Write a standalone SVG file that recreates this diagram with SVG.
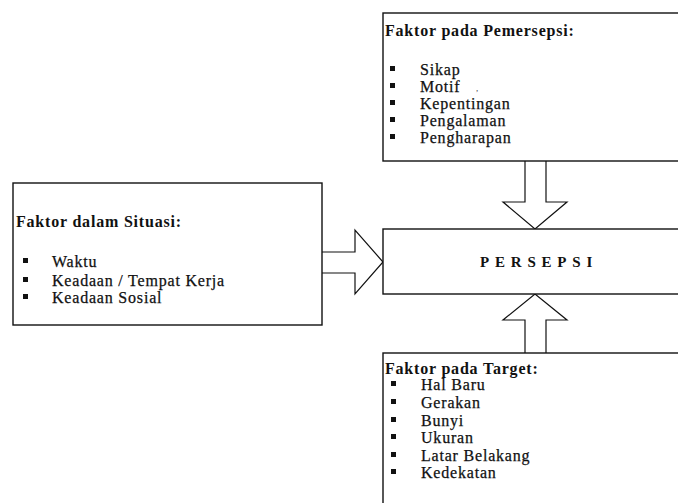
<svg xmlns="http://www.w3.org/2000/svg" width="678" height="503" viewBox="0 0 678 503">
<style>
.box{fill:#fff;stroke:#111;stroke-width:1.4}
.arr{fill:#fff;stroke:#111;stroke-width:1.2;stroke-linejoin:miter}
.t{font-family:"Liberation Serif","Times New Roman","DejaVu Serif",serif;font-size:16px;fill:#111;stroke:#111;stroke-width:0.25;letter-spacing:0.8px}
.h{font-family:"Liberation Serif","Times New Roman","DejaVu Serif",serif;font-size:16px;font-weight:bold;fill:#111;letter-spacing:0.8px}
.p{font-family:"Liberation Serif","Times New Roman","DejaVu Serif",serif;font-size:15px;font-weight:bold;fill:#111;letter-spacing:5.8px}
.b{fill:#111}
</style>
<rect width="678" height="503" fill="#fff"/>
<g id="connectors">
  <path class="arr" d="M322,252 H355 V230 L383,262 L355,294 V273 H322"/>
  <path class="arr" d="M525,161 V202 H503 L535,229 L567,202 H546 V161"/>
  <path class="arr" d="M525,353 V320 H503 L535,294 L567,320 H546 V353"/>
</g>
<g id="node-pemersepsi">
  <rect class="box" x="383" y="13" width="300" height="148"/>
  <text class="h" x="385" y="36">Faktor pada Pemersepsi:</text>
  <rect class="b" x="390" y="66" width="5" height="5"/><text class="t" x="420" y="75">Sikap</text>
  <rect class="b" x="390" y="83" width="5" height="5"/><text class="t" x="420" y="92">Motif</text>
  <text x="476" y="91" style="font-family:'Liberation Serif',serif;font-size:9px;fill:#444">,</text>
  <rect class="b" x="390" y="100" width="5" height="5"/><text class="t" x="420" y="109">Kepentingan</text>
  <rect class="b" x="390" y="117" width="5" height="5"/><text class="t" x="420" y="126">Pengalaman</text>
  <rect class="b" x="390" y="134" width="5" height="5"/><text class="t" x="420" y="143">Pengharapan</text>
</g>
<g id="node-situasi">
  <rect class="box" x="13" y="183" width="309" height="142"/>
  <text class="h" x="16" y="227">Faktor dalam Situasi:</text>
  <rect class="b" x="23" y="258" width="5" height="5"/><text class="t" x="52" y="267">Waktu</text>
  <rect class="b" x="23" y="277" width="5" height="5"/><text class="t" x="52" y="286">Keadaan / Tempat Kerja</text>
  <rect class="b" x="23" y="294" width="5" height="5"/><text class="t" x="52" y="303">Keadaan Sosial</text>
</g>
<g id="node-persepsi">
  <rect class="box" x="383" y="229" width="300" height="65"/>
  <text class="p" x="480" y="267">PERSEPSI</text>
</g>
<g id="node-target">
  <rect class="box" x="383" y="353" width="300" height="160"/>
  <text class="h" x="385" y="374">Faktor pada Target:</text>
  <rect class="b" x="391" y="381" width="5" height="5"/><text class="t" x="421" y="390">Hal Baru</text>
  <rect class="b" x="391" y="399" width="5" height="5"/><text class="t" x="421" y="408">Gerakan</text>
  <rect class="b" x="391" y="417" width="5" height="5"/><text class="t" x="421" y="426">Bunyi</text>
  <rect class="b" x="391" y="434" width="5" height="5"/><text class="t" x="421" y="443">Ukuran</text>
  <rect class="b" x="391" y="452" width="5" height="5"/><text class="t" x="421" y="461">Latar Belakang</text>
  <rect class="b" x="391" y="469" width="5" height="5"/><text class="t" x="421" y="478">Kedekatan</text>
</g>
</svg>
